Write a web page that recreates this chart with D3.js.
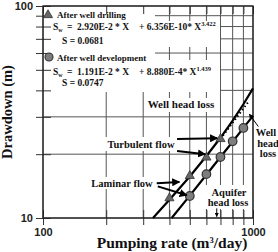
<!DOCTYPE html>
<html>
<head>
<meta charset="utf-8">
<script src="https://cdn.jsdelivr.net/npm/d3@7/dist/d3.min.js"></script>
<style>
  body { margin: 0; background: #fff; }
  svg { display: block; }
  .serif { font-family: "Liberation Serif", "Times New Roman", serif; font-weight: bold; fill: #111; }
  .sans { font-family: "Liberation Sans", Arial, sans-serif; font-weight: bold; fill: #222; }
</style>
</head>
<body>
<div id="chart"></div>
<script>
// ---- data ----------------------------------------------------------------
const xTicks = [100, 200, 300, 400, 500, 600, 700, 800, 900, 1000];
const yTicks = [10, 20, 30, 40, 50, 60, 70, 80, 90, 100];
const xLabels = [100, 1000];
const yLabels = [10, 100];

// measured points
const drillRate = [400, 500, 600, 700];
const drillDraw = [12.4, 15.8, 19.3, 23.6];
const devRate = [500, 600, 700, 800, 900];
const devDraw = [12.7, 16.1, 19.4, 23.0, 26.6];

// fitted curves
const drillFitRate = [334, 400, 500, 600, 700, 800, 900, 1000];
const drillFitDraw = [10, 12.2, 15.7, 19.6, 23.9, 28.8, 34.4, 40.9];
const devFitRate = [410, 500, 600, 700, 800, 900, 1000];
const devFitDraw = [10, 12.75, 16.0, 19.4, 22.9, 26.6, 30.3];
// dotted line
const dotRate = [700, 950];
const dotDraw = [23.6, 35.3];

// arrows: [rateFrom, drawFrom, rateTo, drawTo]
const arrows = [
  [435, 23.6, 676, 23.8],
  [435, 20.7, 592, 20.0],
  [348, 14.6, 446, 14.8],
  [352, 14.1, 484, 12.8],
  [1060, 27.0, 960, 30.9],
  [672, 11.1, 672, 10.15]
];

// ---- layout ----------------------------------------------------------------
const W = 278, H = 252;
const x = d3.scaleLog().domain([100, 1000]).range([43, 253]);
const y = d3.scaleLog().domain([10, 100]).range([218, 6]);

const svg = d3.select("#chart").append("svg")
  .attr("width", W).attr("height", H);

const defs = svg.append("defs");
defs.append("marker")
  .attr("id", "head")
  .attr("viewBox", "0 0 10 10")
  .attr("refX", 9).attr("refY", 5)
  .attr("markerWidth", 4).attr("markerHeight", 4)
  .attr("markerUnits", "strokeWidth")
  .attr("orient", "auto")
  .append("path").attr("d", "M0,0L10,5L0,10z").attr("fill", "#000");

// grid
const grid = svg.append("g").attr("stroke", "#555").attr("stroke-width", 1);
grid.selectAll(".gx").data(xTicks).enter().append("line")
  .attr("x1", d => x(d)).attr("x2", d => x(d))
  .attr("y1", y(100)).attr("y2", y(10));
grid.selectAll(".gy").data(yTicks).enter().append("line")
  .attr("x1", x(100)).attr("x2", x(1000))
  .attr("y1", d => y(d)).attr("y2", d => y(d));

// white boxes behind legend and labels
const boxes = [
  [44, 7, 111, 14], [44, 21, 176, 13], [44, 34, 176, 13],
  [44, 47, 111, 13], [44, 60, 176, 13], [44, 73, 176, 19],
  [145, 98, 72, 14], [104, 137, 75, 14], [87, 177, 72, 12], [205, 185, 46, 24]
];
svg.append("g").selectAll("rect").data(boxes).enter().append("rect")
  .attr("x", d => d[0]).attr("y", d => d[1])
  .attr("width", d => d[2]).attr("height", d => d[3])
  .attr("fill", "#fff");

// axes (ticks cross the frame)
function axisPair(axisFn, scale, tr, labels) {
  svg.append("g").attr("transform", tr)
    .call(axisFn(scale).tickValues(scale === x ? xTicks : yTicks).tickSize(7)
      .tickFormat(d => labels.includes(d) ? d : ""))
    .call(g => g.select(".domain").remove())
    .call(g => g.selectAll("line").attr("stroke", "#333"))
    .call(g => g.selectAll("text").attr("class", "sans").style("font-size", "11px"));
  svg.append("g").attr("transform", tr)
    .call(axisFn(scale).tickValues(scale === x ? xTicks : yTicks).tickSize(-8).tickFormat(""))
    .call(g => g.select(".domain").remove())
    .call(g => g.selectAll("line").attr("stroke", "#333"));
}
axisPair(d3.axisLeft, y, `translate(${x(100)},0)`, yLabels);
axisPair(d3.axisBottom, x, `translate(0,${y(10)})`, xLabels);
svg.append("g").attr("transform", `translate(0,${y(100)})`)
  .call(d3.axisTop(x).tickValues(xTicks).tickSize(-8).tickFormat(""))
  .call(g => g.select(".domain").remove())
  .call(g => g.selectAll("line").attr("stroke", "#333"));

// frame
svg.append("rect")
  .attr("x", x(100)).attr("y", y(100))
  .attr("width", x(1000) - x(100)).attr("height", y(10) - y(100))
  .attr("fill", "none").attr("stroke", "#222").attr("stroke-width", 1.3);

// fitted lines
const line = d3.line().x(d => x(d[0])).y(d => y(d[1]));
svg.append("path").datum(d3.zip(drillFitRate, drillFitDraw))
  .attr("d", line).attr("fill", "none").attr("stroke", "#000").attr("stroke-width", 2.2);
svg.append("path").datum(d3.zip(devFitRate, devFitDraw))
  .attr("d", line).attr("fill", "none").attr("stroke", "#000").attr("stroke-width", 2.2);
svg.append("path").datum(d3.zip(dotRate, dotDraw))
  .attr("d", line).attr("fill", "none").attr("stroke", "#000")
  .attr("stroke-width", 2).attr("stroke-dasharray", "1.5,2.5");

// markers
const tri = d3.symbol(d3.symbolTriangle, 36);
svg.append("g").selectAll("path").data(d3.zip(drillRate, drillDraw)).enter().append("path")
  .attr("d", tri).attr("transform", d => `translate(${x(d[0])},${y(d[1])})`)
  .attr("fill", "#666").attr("stroke", "#333").attr("stroke-width", 0.8);
svg.append("g").selectAll("circle").data(d3.zip(devRate, devDraw)).enter().append("circle")
  .attr("cx", d => x(d[0])).attr("cy", d => y(d[1])).attr("r", 4.3)
  .attr("fill", "#7d7d7d").attr("stroke", "#333").attr("stroke-width", 1.2);

// arrows
svg.append("g").selectAll("line").data(arrows).enter().append("line")
  .attr("x1", d => x(d[0])).attr("y1", d => y(d[1]))
  .attr("x2", d => x(d[2])).attr("y2", d => y(d[3]))
  .attr("stroke", "#000").attr("stroke-width", (d, i) => i >= 4 ? 1 : 2)
  .attr("marker-end", "url(#head)");

// legend
svg.append("path").attr("d", tri).attr("transform", "translate(48,15)")
  .attr("fill", "#666").attr("stroke", "#333").attr("stroke-width", 0.8);
svg.append("circle").attr("cx", 49).attr("cy", 57).attr("r", 4)
  .attr("fill", "#7d7d7d").attr("stroke", "#333").attr("stroke-width", 1.1);

function txt(str, tx, ty, size, anchor) {
  return svg.append("text").attr("class", "serif")
    .attr("x", tx).attr("y", ty).style("font-size", size + "px")
    .attr("text-anchor", anchor || "start").text(str);
}
function eq(tx, ty, a, b, p) {
  const t = svg.append("text").attr("class", "serif").attr("x", tx).attr("y", ty)
    .style("font-size", "9.5px");
  t.append("tspan").text("S");
  t.append("tspan").attr("dy", 2).style("font-size", "6px").text("w");
  t.append("tspan").attr("dy", -2).attr("x", tx + 14).text("=");
  t.append("tspan").attr("x", tx + 24).text(a + " * X");
  t.append("tspan").attr("x", tx + 86).text("+ " + b + "* X");
  t.append("tspan").attr("dy", -4).style("font-size", "6.5px").text(p);
}
txt("After well drilling", 57, 18, 9);
eq(53, 30, "2.920E-2", "6.356E-10", "3.422");
txt("S = 0.0681", 62, 43.5, 9.5);
txt("After well development", 57, 60.5, 9);
eq(53, 74.5, "1.191E-2", "8.880E-4", "1.439");
txt("S = 0.0747", 62, 85.5, 9.5);

// annotations
txt("Well head loss", 181, 108, 11, "middle");
txt("Turbulent flow", 141, 148, 10.5, "middle");
txt("Laminar flow", 122, 187, 10.5, "middle");
txt("Aquifer", 229, 196, 10.5, "middle");
txt("head loss", 228, 206, 10.5, "middle");
txt("Well", 266, 136, 10.5, "middle");
txt("head", 268, 146.5, 10.5, "middle");
txt("loss", 268, 157, 10.5, "middle");

// axis titles
txt("Drawdown (m)", 0, 0, 14.5).attr("text-anchor", "middle")
  .attr("transform", "translate(12,112) rotate(-90)");
const xt = txt("Pumping rate (m", 172, 248, 15.5, "middle");
xt.append("tspan").attr("dy", -5).style("font-size", "8.5px").text("3");
xt.append("tspan").attr("dy", 5).text("/day)");
</script>
</body>
</html>
